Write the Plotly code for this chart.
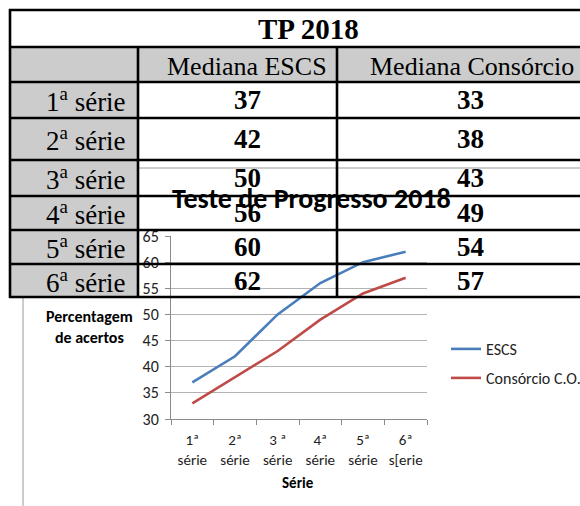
import plotly.graph_objects as go

W, H = 580, 506

# ---- data ----
series_labels = ["1ª<br>série", "2ª<br>série", "3 ª<br>série", "4ª<br>série", "5ª<br>série", "6ª<br>s[erie"]
escs = [37, 42, 50, 56, 60, 62]
consorcio = [33, 38, 43, 49, 54, 57]

table_title = "TP 2018"
table_headers = ["Mediana ESCS", "Mediana Consórcio"]
table_rows = ["1<sup>a</sup> série", "2<sup>a</sup> série", "3<sup>a</sup> série",
              "4<sup>a</sup> série", "5<sup>a</sup> série", "6<sup>a</sup> série"]
table_escs = [37, 42, 50, 56, 60, 62]
table_cons = [33, 38, 43, 49, 54, 57]

chart_title = "Teste de Progresso 2018"
y_title = "Percentagem<br>de acertos"
x_title = "Série"


def px(x):
    return x / W


def py(y):
    return 1 - y / H


CAL = "Carlito, Lato, sans-serif"
SERIF = "Liberation Serif, Times New Roman, serif"

fig = go.Figure()
fig.add_trace(go.Scatter(x=series_labels, y=escs, mode="lines", name="ESCS",
                         line=dict(color="#4a7ebb", width=2.6), legend="legend"))
fig.add_trace(go.Scatter(x=series_labels, y=consorcio, mode="lines", name="Consórcio C.O.",
                         line=dict(color="#be4b48", width=2.6), legend="legend2"))

shapes = []
# chart frame
shapes.append(dict(type="rect", xref="paper", yref="paper", x0=px(23), x1=px(620), y0=py(168), y1=py(540),
                   line=dict(color="#9a9a9a", width=1), fillcolor="rgba(0,0,0,0)", layer="below"))
# gray cells
shapes.append(dict(type="rect", xref="paper", yref="paper", x0=px(10), x1=px(138), y0=py(47), y1=py(297),
                   line=dict(width=0), fillcolor="#cccccc", layer="below"))
shapes.append(dict(type="rect", xref="paper", yref="paper", x0=px(138), x1=px(620), y0=py(47), y1=py(82),
                   line=dict(width=0), fillcolor="#cccccc", layer="below"))
# white title cell
shapes.append(dict(type="rect", xref="paper", yref="paper", x0=px(10), x1=px(620), y0=py(10), y1=py(47),
                   line=dict(width=0), fillcolor="#ffffff", layer="below"))
# borders
for yy in [10, 47, 82, 118, 160, 196, 230, 264, 297]:
    shapes.append(dict(type="line", xref="paper", yref="paper", x0=px(9), x1=px(620), y0=py(yy), y1=py(yy),
                       line=dict(color="#000000", width=2.6), layer="above"))
shapes.append(dict(type="line", xref="paper", yref="paper", x0=px(10), x1=px(10), y0=py(9), y1=py(298),
                   line=dict(color="#000000", width=2.6), layer="above"))
for xx in [138, 337]:
    shapes.append(dict(type="line", xref="paper", yref="paper", x0=px(xx), x1=px(xx), y0=py(47), y1=py(298),
                       line=dict(color="#000000", width=2.6), layer="above"))


def note(text, x, y, size, family, xanchor="center", align="center"):
    return dict(text=text, x=px(x), y=py(y), xref="paper", yref="paper",
                xanchor=xanchor, yanchor="middle", align=align, showarrow=False,
                font=dict(family=family, size=size, color="#000"))


ann = []
ann.append(note("<b>%s</b>" % table_title, 308, 29, 29, SERIF))
for t, xc in zip(table_headers, [247, 472]):
    ann.append(note(t, xc, 66, 26, SERIF))
row_centers = [100, 139, 178, 213, 247, 281]
for lab, a, b, yc in zip(table_rows, table_escs, table_cons, row_centers):
    ann.append(note(lab, 128, yc, 27, SERIF, xanchor="right", align="right"))
    ann.append(note("<b>%d</b>" % a, 247, yc, 27, SERIF))
    ann.append(note("<b>%d</b>" % b, 470, yc, 27, SERIF))

ann.append(note("<b>%s</b>" % chart_title, 311, 199, 28, CAL))
ann.append(note("<b>%s</b>" % y_title, 89, 327, 16, CAL))
ann.append(note("<b>%s</b>" % x_title, 298, 483, 15, CAL))

fig.update_layout(
    width=W, height=H, autosize=False,
    margin=dict(l=0, r=0, t=0, b=0, pad=0, autoexpand=False),
    paper_bgcolor="#ffffff", plot_bgcolor="rgba(0,0,0,0)",
    shapes=shapes, annotations=ann,
    xaxis=dict(domain=[px(171), px(427)], type="category", range=[-0.5, 5.5], showgrid=False,
               showline=True, linecolor="#8a8a8a", linewidth=1, tickangle=0,
               ticks="outside", tickson="boundaries", ticklen=5, tickcolor="#8a8a8a",
               tickfont=dict(family=CAL, size=15, color="#222"), ticklabelstandoff=7,
               fixedrange=True, automargin=False),
    yaxis=dict(domain=[py(419), py(236)], range=[30, 65], dtick=5, showgrid=True,
               gridcolor="#b3b3b3", gridwidth=1, zeroline=False,
               showline=True, linecolor="#8a8a8a", linewidth=1,
               ticks="outside", ticklen=5, tickcolor="#8a8a8a",
               tickfont=dict(family=CAL, size=16, color="#222"), ticklabelstandoff=3,
               fixedrange=True, automargin=False),
    legend=dict(x=px(446), y=py(349), xanchor="left", yanchor="middle",
                font=dict(family=CAL, size=16, color="#222"), bgcolor="rgba(0,0,0,0)"),
    legend2=dict(x=px(446), y=py(378), xanchor="left", yanchor="middle",
                 font=dict(family=CAL, size=16, color="#222"), bgcolor="rgba(0,0,0,0)"),
    showlegend=True,
)

fig.write_html("out.html", config={"displayModeBar": False},
               post_script="document.body.style.margin='0';document.body.style.overflow='hidden';")
